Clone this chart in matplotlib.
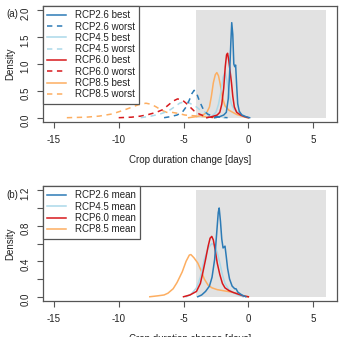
import numpy as np
import matplotlib
matplotlib.use("Agg")
from matplotlib import pyplot as plt

plt.rcParams['font.family'] = ['Liberation Sans', 'DejaVu Sans']

# colours (RdYlBu, 4 classes)
c26 = '#2c7bb6'
c45 = '#abd9e9'
c60 = '#d7191c'
c85 = '#fdae61'

# ---- panel (a): best / worst cases ----
x26_best = [-2.6, -2.2, -1.9, -1.7, -1.55, -1.45, -1.35, -1.28, -1.2, -1.12, -1.05, -0.98, -0.9, -0.82, -0.7, -0.5, -0.2, 0.1]
y26_best = [0.0, 0.02, 0.05, 0.1, 0.35, 0.8, 1.4, 1.77, 1.55, 1.0, 0.95, 0.98, 0.6, 0.26, 0.12, 0.05, 0.02, 0.0]

x26_worst = [-6.5, -6.0, -5.5, -5.1, -4.8, -4.55, -4.35, -4.18, -4.0, -3.8, -3.6, -3.4, -3.1, -2.7, -2.2, -1.6]
y26_worst = [0.0, 0.02, 0.05, 0.1, 0.2, 0.33, 0.45, 0.51, 0.46, 0.33, 0.22, 0.12, 0.06, 0.03, 0.01, 0.0]

x45_best = [-3.2, -2.8, -2.5, -2.3, -2.1, -1.95, -1.8, -1.65, -1.5, -1.3, -1.1, -0.8, -0.5, -0.2, 0.0]
y45_best = [0.0, 0.03, 0.1, 0.25, 0.5, 0.75, 0.85, 0.7, 0.45, 0.25, 0.15, 0.1, 0.06, 0.02, 0.0]

x45_worst = [-8.3, -7.5, -6.8, -6.2, -5.7, -5.3, -4.9, -4.6, -4.3, -4.0, -3.7, -3.3, -2.9, -2.4, -1.8]
y45_worst = [0.0, 0.03, 0.07, 0.12, 0.2, 0.27, 0.3, 0.28, 0.24, 0.2, 0.14, 0.1, 0.05, 0.01, 0.0]

x60_best = [-3.2, -2.8, -2.4, -2.2, -2.05, -1.9, -1.78, -1.68, -1.6, -1.5, -1.4, -1.3, -1.2, -1.08, -0.9, -0.6, -0.3, 0.0]
y60_best = [0.0, 0.02, 0.05, 0.1, 0.25, 0.55, 0.95, 1.17, 1.2, 1.05, 0.85, 0.65, 0.4, 0.2, 0.1, 0.05, 0.02, 0.0]

x60_worst = [-10.0, -9.0, -8.3, -7.7, -7.1, -6.6, -6.2, -5.8, -5.46, -5.1, -4.8, -4.5, -4.2, -3.8, -3.4, -3.0, -2.5]
y60_worst = [0.0, 0.01, 0.03, 0.06, 0.1, 0.15, 0.23, 0.31, 0.35, 0.33, 0.27, 0.2, 0.13, 0.07, 0.03, 0.01, 0.0]

x85_best = [-4.6, -4.0, -3.5, -3.2, -3.0, -2.85, -2.7, -2.55, -2.43, -2.3, -2.15, -2.0, -1.8, -1.5, -1.2, -0.9, -0.5, -0.1]
y85_best = [0.0, 0.02, 0.05, 0.1, 0.2, 0.4, 0.65, 0.8, 0.84, 0.78, 0.6, 0.38, 0.22, 0.14, 0.1, 0.06, 0.03, 0.0]

x85_worst = [-14.0, -12.5, -11.5, -10.5, -9.5, -8.5, -7.9, -7.5, -7.1, -6.7, -6.3, -5.9, -5.4, -4.9, -4.4, -3.9, -3.4, -2.9, -2.4]
y85_worst = [0.0, 0.01, 0.03, 0.07, 0.15, 0.24, 0.27, 0.25, 0.2, 0.14, 0.1, 0.1, 0.08, 0.05, 0.04, 0.03, 0.02, 0.01, 0.0]

# ---- panel (b): means ----
x26_mean = [-3.9, -3.6, -3.3, -3.0, -2.8, -2.6, -2.45, -2.32, -2.25, -2.15, -2.05, -1.95, -1.8, -1.7, -1.6, -1.45, -1.25, -1.05, -0.95, -0.8, -0.5, -0.2]
y26_mean = [0.0, 0.02, 0.06, 0.12, 0.22, 0.42, 0.7, 0.95, 1.0, 0.85, 0.65, 0.55, 0.57, 0.45, 0.32, 0.2, 0.12, 0.09, 0.09, 0.05, 0.02, 0.0]

x45_mean = [-4.8, -4.4, -4.0, -3.7, -3.4, -3.1, -2.8, -2.6, -2.4, -2.2, -2.0, -1.8, -1.5, -1.2, -0.8, -0.4]
y45_mean = [0.0, 0.03, 0.1, 0.22, 0.42, 0.55, 0.6, 0.58, 0.5, 0.38, 0.25, 0.15, 0.08, 0.05, 0.02, 0.0]

x60_mean = [-5.0, -4.5, -4.0, -3.7, -3.5, -3.3, -3.1, -2.95, -2.82, -2.7, -2.55, -2.4, -2.2, -2.0, -1.8, -1.5, -1.2, -0.8, -0.4, 0.0]
y60_mean = [0.0, 0.02, 0.06, 0.15, 0.28, 0.42, 0.57, 0.66, 0.68, 0.64, 0.52, 0.38, 0.25, 0.15, 0.1, 0.07, 0.05, 0.03, 0.01, 0.0]

x85_mean = [-7.6, -7.0, -6.5, -6.2, -5.8, -5.5, -5.1, -4.8, -4.55, -4.43, -4.2, -3.9, -3.6, -3.4, -3.1, -2.8, -2.4, -2.0, -1.6, -1.2, -0.8, -0.4, 0.0]
y85_mean = [0.0, 0.01, 0.02, 0.04, 0.09, 0.16, 0.28, 0.4, 0.47, 0.475, 0.44, 0.38, 0.28, 0.2, 0.13, 0.1, 0.08, 0.07, 0.06, 0.05, 0.03, 0.01, 0.0]

xticks = [-15, -10, -5, 0, 5]
shade = (-4, 6)   # grey window
axcol = '#555555'
txtcol = '#222222'
dash = (0, (3.5, 3))


def style(ax, ymax, yticks, ylabels):
    # R base-graphics look
    ax.set_xlim(-15.84, 6.84)
    ax.set_ylim(-0.04 * ymax, 1.04 * ymax)
    ax.fill_between(shade, 0, ymax, color='#e2e2e2', lw=0, zorder=0)
    ax.set_xticks(xticks)
    ax.set_xticklabels([str(t) for t in xticks])
    ax.set_yticks(yticks)
    ax.set_yticklabels(ylabels)
    ax.tick_params(axis='both', direction='out', length=4, width=0.8,
                   colors=axcol, labelcolor=txtcol, labelsize=7, pad=5)
    ax.tick_params(axis='y', labelrotation=90)
    for s in ax.spines.values():
        s.set_color(axcol)
        s.set_linewidth(0.9)
    ax.set_xlabel('Crop duration change [days]', fontsize=7, color=txtcol, va='center')
    ax.set_ylabel('Density', fontsize=7, color=txtcol, va='center')
    ax.yaxis.set_label_coords(-33 / 294, 0.5)


fig = plt.figure(figsize=(3.43, 3.37), dpi=100)

# panel (a)
ax1 = fig.add_axes([43 / 343, 1 - 122 / 337, 294 / 343, 116 / 337])
lw = 1.1
ax1.plot(x85_worst, y85_worst, color=c85, lw=lw, ls=dash)
ax1.plot(x85_best, y85_best, color=c85, lw=lw)
ax1.plot(x60_worst, y60_worst, color=c60, lw=lw, ls=dash)
ax1.plot(x45_worst, y45_worst, color=c45, lw=lw, ls=dash)
ax1.plot(x26_worst, y26_worst, color=c26, lw=lw, ls=dash)
ax1.plot(x45_best, y45_best, color=c45, lw=lw)
ax1.plot(x60_best, y60_best, color=c60, lw=lw)
ax1.plot(x26_best, y26_best, color=c26, lw=lw)
style(ax1, 2.0, [0, 0.5, 1.0, 1.5, 2.0], ['0.0', '0.5', '1.0', '1.5', '2.0'])
ax1.xaxis.set_label_coords(0.5, -38 / 116)

h = [plt.Line2D([], [], color=c26, lw=lw), plt.Line2D([], [], color=c26, lw=lw, ls=dash),
     plt.Line2D([], [], color=c45, lw=lw), plt.Line2D([], [], color=c45, lw=lw, ls=dash),
     plt.Line2D([], [], color=c60, lw=lw), plt.Line2D([], [], color=c60, lw=lw, ls=dash),
     plt.Line2D([], [], color=c85, lw=lw), plt.Line2D([], [], color=c85, lw=lw, ls=dash)]
labs = ['RCP2.6 best', 'RCP2.6 worst', 'RCP4.5 best', 'RCP4.5 worst',
        'RCP6.0 best', 'RCP6.0 worst', 'RCP8.5 best', 'RCP8.5 worst']
leg = ax1.legend(h, labs, loc='upper left', fontsize=7, labelspacing=0.13,
                 borderpad=0.45, handlelength=1.9, handletextpad=0.9,
                 borderaxespad=0, fancybox=False, framealpha=1)
leg.get_frame().set_edgecolor(axcol)
leg.get_frame().set_linewidth(0.9)
for t in leg.get_texts():
    t.set_color(txtcol)

# panel (b)
ax2 = fig.add_axes([43 / 343, 1 - 301 / 337, 294 / 343, 115 / 337])
ax2.plot(x85_mean, y85_mean, color=c85, lw=lw)
ax2.plot(x45_mean, y45_mean, color=c45, lw=lw)
ax2.plot(x60_mean, y60_mean, color=c60, lw=lw)
ax2.plot(x26_mean, y26_mean, color=c26, lw=lw)
style(ax2, 1.2, [0, 0.2, 0.4, 0.6, 0.8, 1.0, 1.2], ['0.0', '', '0.4', '', '0.8', '', '1.2'])
ax2.xaxis.set_label_coords(0.5, -38 / 115)

h2 = [plt.Line2D([], [], color=c, lw=lw) for c in (c26, c45, c60, c85)]
labs2 = ['RCP2.6 mean', 'RCP4.5 mean', 'RCP6.0 mean', 'RCP8.5 mean']
leg2 = ax2.legend(h2, labs2, loc='upper left', fontsize=7, labelspacing=0.13,
                  borderpad=0.45, handlelength=1.9, handletextpad=0.9,
                  borderaxespad=0, fancybox=False, framealpha=1)
leg2.get_frame().set_edgecolor(axcol)
leg2.get_frame().set_linewidth(0.9)
for t in leg2.get_texts():
    t.set_color(txtcol)

fig.text(12 / 343, 1 - 14 / 337, '(a)', fontsize=7, color=txtcol, ha='center', va='center')
fig.text(12 / 343, 1 - 195 / 337, '(b)', fontsize=7, color=txtcol, ha='center', va='center')

fig.savefig('out.png', dpi=100)
